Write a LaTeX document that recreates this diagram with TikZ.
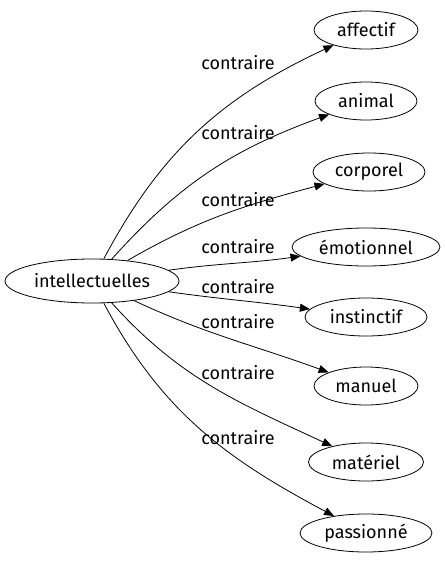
\documentclass[tikz,border=0pt]{standalone}
\usepackage{fontspec}
\setmainfont{Fira Sans}
\usetikzlibrary{arrows.meta,shapes.geometric}
\tikzset{term/.style={draw, ellipse, inner sep=0pt, minimum height=38pt, font=\fontsize{18}{20}\selectfont},
  rel/.style={-{Triangle[length=10pt,width=8pt]}},
  lbl/.style={font=\fontsize{18}{20}\selectfont, inner sep=0pt}}
\begin{document}
\begin{tikzpicture}[x=1pt, y=-1pt, line width=0.8pt]
  \useasboundingbox (0,0) rectangle (445,563);
  % source and targets
  \node[term, minimum width=174pt, minimum height=44pt] (src) at (92,281) {intellectuelles};
  \node[term, minimum width=104pt] (affectif)   at (366,30)  {affectif};
  \node[term, minimum width=102pt] (animal)     at (366,101) {animal};
  \node[term, minimum width=112pt] (corporel)   at (369,172) {corporel};
  \node[term, minimum width=148pt] (emotionnel) at (366,247) {émotionnel};
  \node[term, minimum width=122pt] (instinctif) at (366,317) {instinctif};
  \node[term, minimum width=104pt] (manuel)     at (366,386) {manuel};
  \node[term, minimum width=115pt] (materiel)   at (366,462) {matériel};
  \node[term, minimum width=132pt] (passionne)  at (366,533) {passionné};
  % relations
  \draw[rel] (src) to[out=62, in=205] (affectif);
  \draw[rel] (src) to[out=48, in=200] (animal);
  \draw[rel] (src) to[out=30, in=195] (corporel);
  \draw[rel] (src) to[out=8, in=188] (emotionnel);
  \draw[rel] (src) to[out=-8, in=172] (instinctif);
  \draw[rel] (src) to[out=-25, in=160] (manuel);
  \draw[rel] (src) to[out=-48, in=155] (materiel);
  \draw[rel] (src) to[out=-62, in=152] (passionne);
  % relation labels
  \foreach \y/\n in {63/a, 133/b, 200/c, 247/d, 287/e, 322/f, 373/g, 438/h}{
    \node[lbl] (lab\n) at (238,\y) {contraire};}
\end{tikzpicture}
\end{document}
